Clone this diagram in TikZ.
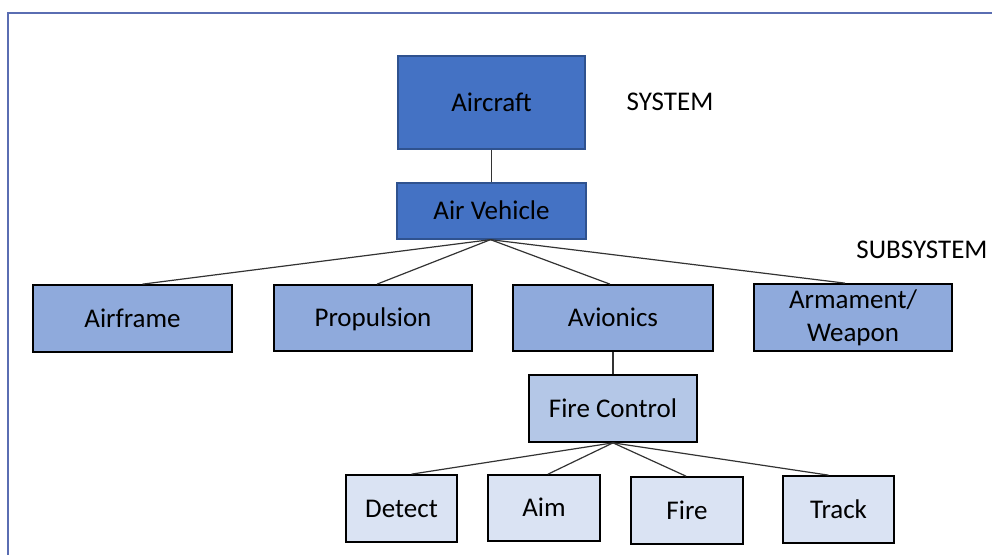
\documentclass[tikz,border=0pt]{standalone}
\usepackage{fontspec}
\setmainfont{Carlito}
\begin{document}
\begin{tikzpicture}[x=1pt,y=-1pt,
  every node/.style={font=\fontsize{27}{33}\selectfont, text=black},
  oneline/.style={text height=18pt, text depth=1pt},
  topbox/.style={draw=boxborder, line width=1.3pt, fill=topblue, inner sep=0pt, oneline},
  midbox/.style={draw=black, line width=1.7pt, fill=midblue, inner sep=0pt},
  fcbox/.style={draw=black, line width=1.7pt, fill=fcblue, inner sep=0pt, oneline},
  leafbox/.style={draw=black, line width=1.7pt, fill=leafblue, inner sep=0pt, oneline},
  conn/.style={draw=black!80, line width=1.2pt}]
\definecolor{topblue}{HTML}{4472C4}
\definecolor{boxborder}{HTML}{2F528F}
\definecolor{midblue}{HTML}{8FAADC}
\definecolor{fcblue}{HTML}{B4C7E7}
\definecolor{leafblue}{HTML}{DAE3F3}
\definecolor{framecol}{HTML}{5A6DB2}
\useasboundingbox (0,0) rectangle (992,554);
\draw[framecol, line width=2.5pt] (8,13) rectangle (1010,580);

\node[topbox, minimum width=187pt, minimum height=93pt] (aircraft) at (491.5,102.5) {Aircraft};
\node (system) at (670,102) {SYSTEM};
\node[topbox, minimum width=189pt, minimum height=56pt] (airveh) at (491.5,211) {Air Vehicle};
\node (subsystem) at (922,250) {SUBSYSTEM};

\node[midbox, oneline, minimum width=199pt, minimum height=67pt] (airframe) at (132.5,318.5) {Airframe};
\node[midbox, oneline, minimum width=198pt, minimum height=66pt] (propulsion) at (373,318) {Propulsion};
\node[midbox, oneline, minimum width=200pt, minimum height=66pt] (avionics) at (613,318) {Avionics};
\node[midbox, minimum width=198pt, minimum height=67pt, align=center] (armament) at (853,317.5) {Armament/\\Weapon};

\node[fcbox, minimum width=168pt, minimum height=67pt] (firecontrol) at (613,408.5) {Fire Control};

\node[leafbox, minimum width=111pt, minimum height=67pt] (detect) at (401.5,508.5) {Detect};
\node[leafbox, minimum width=112pt, minimum height=66pt] (aim) at (544,508) {Aim};
\node[leafbox, minimum width=112pt, minimum height=67pt] (fire) at (687,510.5) {Fire};
\node[leafbox, minimum width=111pt, minimum height=67pt] (track) at (838.5,509.5) {Track};

\draw[conn] (aircraft.south) -- (airveh.south |- airveh.north);
\draw[conn] ([xshift=-1pt]airveh.south) -- ([xshift=10pt]airframe.north);
\draw[conn] ([xshift=-1pt]airveh.south) -- ([xshift=4pt]propulsion.north);
\draw[conn] ([xshift=-1pt]airveh.south) -- ([xshift=-3pt]avionics.north);
\draw[conn] ([xshift=-1pt]airveh.south) -- ([xshift=-8pt]armament.north);
\draw[conn] (avionics.south) -- (firecontrol.north);
\draw[conn] (firecontrol.south) -- ([xshift=10pt]detect.north);
\draw[conn] (firecontrol.south) -- ([xshift=4pt]aim.north);
\draw[conn] (firecontrol.south) -- ([xshift=-1pt]fire.north);
\draw[conn] (firecontrol.south) -- ([xshift=-10pt]track.north);
\end{tikzpicture}
\end{document}
